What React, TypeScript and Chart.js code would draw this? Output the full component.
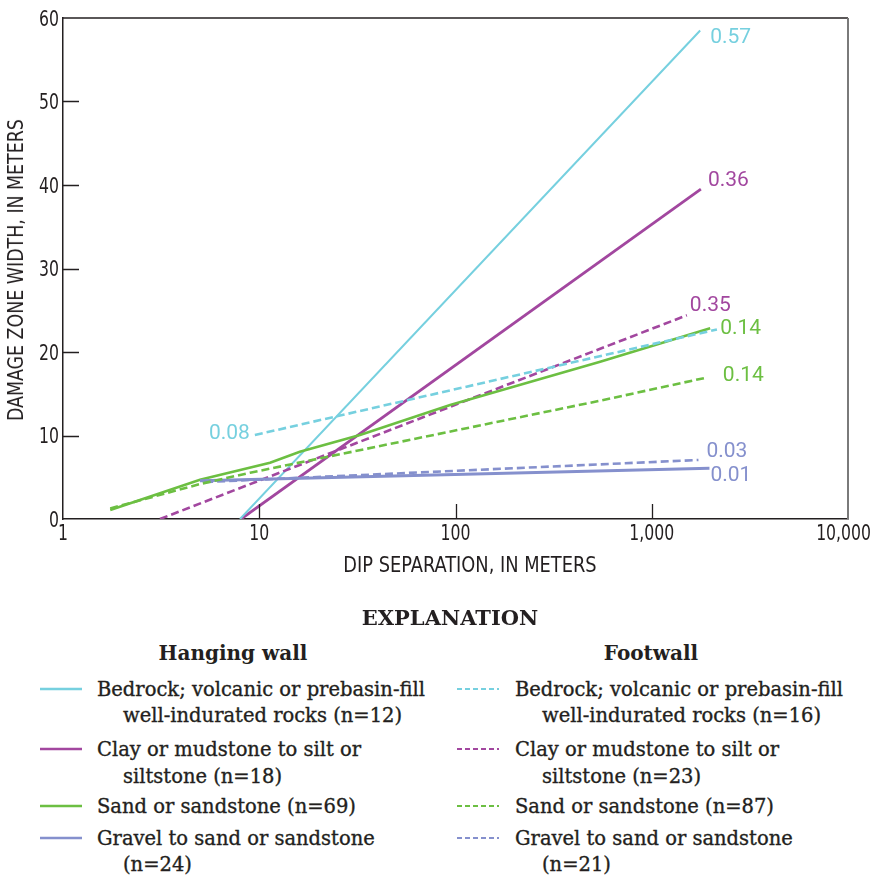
import React, { useEffect, useRef } from "react";
import { Chart, registerables } from "chart.js";

Chart.register(...registerables);

// Trend lines of damage zone width against dip separation (meters)
// Hanging wall
const hwBedrockX = [7.98, 1765];
const hwBedrockY = [0, 58.5];
const hwClayX = [8.08, 1780];
const hwClayY = [0, 39.5];
const hwSandX = [1.74, 4.99, 11.35, 16.1, 32.6, 93.9, 546, 1985];
const hwSandY = [1.08, 4.7, 6.74, 8.06, 10.06, 13.65, 18.84, 22.84];
const hwGravelX = [4.99, 1968];
const hwGravelY = [4.59, 6.07];

// Footwall
const fwBedrockX = [9.5, 2148];
const fwBedrockY = [10.06, 22.7];
const fwClayX = [3.12, 1510];
const fwClayY = [0, 24.4];
const fwSandX = [1.74, 4.99, 8.98, 546, 1931];
const fwSandY = [1.26, 4.19, 5.54, 14.17, 16.97];
const fwGravelX = [5.3, 1730];
const fwGravelY = [4.43, 7.07];

// Coefficient of determination for each fit
const r2Values = {
  hwBedrock: "0.57",
  hwClay: "0.36",
  hwSand: "0.14",
  hwGravel: "0.01",
  fwBedrock: "0.08",
  fwClay: "0.35",
  fwSand: "0.14",
  fwGravel: "0.03",
};

const xTickValues = [1, 10, 100, 1000, 10000];
const xTickLabels = ["1", "10", "100", "1,000", "10,000"];
const yMin = 0;
const yMax = 60;
const yStep = 10;

const CYAN = "#76d0df";
const PURPLE = "#a2479f";
const GREEN = "#6cbf42";
const BLUE = "#8590cd";
const INK = "#231f20";

const COND = "'Liberation Sans Narrow', 'DejaVu Sans Condensed', 'Liberation Sans', sans-serif";
const SERIF = "'DejaVu Serif', 'Liberation Serif', serif";

const pts = (xs: number[], ys: number[]) => xs.map((x, i) => ({ x, y: ys[i] }));

// where each R² label sits relative to its line end
const labelPlacement: Record<string, { end: "first" | "last"; dx: number; dy: number; align: CanvasTextAlign }> = {
  hwBedrock: { end: "last", dx: 10, dy: 7, align: "left" },
  hwClay: { end: "last", dx: 7, dy: -8, align: "left" },
  hwSand: { end: "last", dx: 10, dy: 0, align: "left" },
  hwGravel: { end: "last", dx: 1, dy: 7, align: "left" },
  fwBedrock: { end: "first", dx: -5, dy: -1, align: "right" },
  fwClay: { end: "last", dx: 3, dy: -10, align: "left" },
  fwSand: { end: "last", dx: 15, dy: -2, align: "left" },
  fwGravel: { end: "last", dx: 8, dy: -8, align: "left" },
};

const r2LabelPlugin = {
  id: "r2Labels",
  afterDatasetsDraw(chart: any) {
    const ctx = chart.ctx;
    ctx.save();
    ctx.font = "21px Roboto, 'Liberation Sans', sans-serif";
    ctx.textBaseline = "middle";
    chart.data.datasets.forEach((ds: any, i: number) => {
      const key = ds.key as string;
      const place = labelPlacement[key];
      const meta = chart.getDatasetMeta(i);
      const el = place.end === "last" ? meta.data[meta.data.length - 1] : meta.data[0];
      ctx.fillStyle = ds.borderColor;
      ctx.textAlign = place.align;
      ctx.fillText(r2Values[key as keyof typeof r2Values], el.x + place.dx, el.y + place.dy);
    });
    ctx.restore();
  },
};

// condensed tick labels, placed with the scales' own pixel mapping
const SQUEEZE = 0.83;
const drawCondensed = (ctx: any, text: string, x: number, y: number) => {
  ctx.save();
  ctx.translate(x, y);
  ctx.scale(SQUEEZE, 1);
  ctx.fillText(text, 0, 0);
  ctx.restore();
};

// inward tick marks, tick labels, plus the top and right frame lines
const frameTicksPlugin = {
  id: "frameTicks",
  afterDraw(chart: any) {
    const { ctx, chartArea } = chart;
    const xs = chart.scales.x;
    const ys = chart.scales.y;
    ctx.save();
    ctx.strokeStyle = INK;
    ctx.lineWidth = 1.3;
    ctx.beginPath();
    for (let v = yMin + yStep; v < yMax; v += yStep) {
      const py = Math.round(ys.getPixelForValue(v)) + 0.5;
      ctx.moveTo(chartArea.left, py);
      ctx.lineTo(chartArea.left + 16, py);
    }
    xTickValues.slice(1, -1).forEach((v) => {
      const px = Math.round(xs.getPixelForValue(v)) + 0.5;
      ctx.moveTo(px, chartArea.bottom);
      ctx.lineTo(px, chartArea.bottom - 15);
    });
    ctx.stroke();
    ctx.lineWidth = 1.5;
    ctx.beginPath();
    ctx.moveTo(chartArea.left, chartArea.top);
    ctx.lineTo(chartArea.right, chartArea.top);
    ctx.stroke();
    ctx.strokeStyle = "#7a7a7a";
    ctx.lineWidth = 2;
    ctx.beginPath();
    ctx.moveTo(chartArea.right, chartArea.top);
    ctx.lineTo(chartArea.right, chartArea.bottom);
    ctx.stroke();

    ctx.fillStyle = INK;
    ctx.font = `21px ${COND}`;
    ctx.textBaseline = "alphabetic";
    ctx.textAlign = "right";
    for (let v = yMin; v <= yMax; v += yStep) {
      drawCondensed(ctx, String(v), chartArea.left - 4, ys.getPixelForValue(v) + 7.5);
    }
    ctx.textAlign = "center";
    xTickValues.forEach((v, i) => {
      const half = (ctx.measureText(xTickLabels[i]).width * SQUEEZE) / 2;
      // keep the outermost label inside the canvas
      const cx = Math.min(xs.getPixelForValue(v), chart.width - half);
      drawCondensed(ctx, xTickLabels[i], cx, chartArea.bottom + 21);
    });
    ctx.restore();
  },
};

function DamageChart() {
  const ref = useRef<HTMLCanvasElement | null>(null);
  useEffect(() => {
    if (!ref.current) return;
    const solid = (key: string, color: string, xs: number[], ys: number[], w: number) => ({
      key,
      data: pts(xs, ys),
      borderColor: color,
      borderWidth: w,
      pointRadius: 0,
      tension: 0,
      fill: false,
    });
    const dashed = (key: string, color: string, xs: number[], ys: number[]) => ({
      ...solid(key, color, xs, ys, 2.6),
      borderDash: [8, 4],
    });
    const chart = new Chart(ref.current, {
      type: "line",
      data: {
        datasets: [
          dashed("fwBedrock", CYAN, fwBedrockX, fwBedrockY),
          dashed("fwSand", GREEN, fwSandX, fwSandY),
          dashed("fwGravel", BLUE, fwGravelX, fwGravelY),
          solid("hwGravel", BLUE, hwGravelX, hwGravelY, 3),
          solid("hwSand", GREEN, hwSandX, hwSandY, 2.6),
          dashed("fwClay", PURPLE, fwClayX, fwClayY),
          solid("hwBedrock", CYAN, hwBedrockX, hwBedrockY, 2),
          solid("hwClay", PURPLE, hwClayX, hwClayY, 2.8),
        ] as any,
      },
      options: {
        animation: false,
        responsive: false,
        maintainAspectRatio: false,
        devicePixelRatio: 1,
        layout: { padding: { left: 0, right: 23, top: 18, bottom: 0 } },
        plugins: { legend: { display: false }, tooltip: { enabled: false } },
        events: [],
        scales: {
          x: {
            type: "logarithmic",
            min: 1,
            max: 10000,
            afterBuildTicks: (s: any) => {
              s.ticks = xTickValues.map((v) => ({ value: v }));
            },
            afterFit: (s: any) => {
              s.height = 71;
              s.paddingLeft = 0;
              s.paddingRight = 0;
            },
            grid: { display: false, drawTicks: false },
            border: { display: true, color: INK, width: 1.5 },
            ticks: { display: false, autoSkip: false, maxRotation: 0 },
          },
          y: {
            type: "linear",
            min: yMin,
            max: yMax,
            afterFit: (s: any) => {
              s.width = 63;
              s.paddingTop = 0;
              s.paddingBottom = 0;
            },
            grid: { display: false, drawTicks: false },
            border: { display: true, color: INK, width: 1.5 },
            ticks: { display: false, stepSize: yStep },
          },
        },
      },
      plugins: [r2LabelPlugin, frameTicksPlugin],
    });
    return () => chart.destroy();
  }, []);
  return (
    <canvas
      ref={ref}
      width={871}
      height={590}
      style={{ position: "absolute", left: 0, top: 0, width: 871, height: 590 }}
    />
  );
}

type TextProps = {
  x: number;
  cy: number;
  size: number;
  family: string;
  weight?: number;
  align?: "left" | "center";
  heavy?: boolean;
  children: React.ReactNode;
};

function Label({ x, cy, size, family, weight = 400, align = "left", heavy = false, children }: TextProps) {
  return (
    <div
      style={{
        position: "absolute",
        left: x,
        top: cy,
        transform: align === "center" ? "translate(-50%, -50%)" : "translate(0, -50%)",
        fontFamily: family,
        fontSize: size,
        fontWeight: weight,
        lineHeight: 1,
        color: INK,
        whiteSpace: "nowrap",
        WebkitTextStroke: heavy ? `0.35px ${INK}` : undefined,
      }}
    >
      {children}
    </div>
  );
}

function Sample({ x, cy, color, dashed }: { x: number; cy: number; color: string; dashed: boolean }) {
  return (
    <svg width={44} height={6} style={{ position: "absolute", left: x, top: cy - 3 }}>
      <line
        x1={0}
        y1={3}
        x2={42}
        y2={3}
        stroke={color}
        strokeWidth={dashed ? 1.8 : 2.6}
        strokeDasharray={dashed ? "5 3" : undefined}
      />
    </svg>
  );
}

const legendRows = [
  { color: CYAN, hw: ["Bedrock; volcanic or prebasin-fill", "well-indurated rocks (n=12)"], fw: ["Bedrock; volcanic or prebasin-fill", "well-indurated rocks (n=16)"] },
  { color: PURPLE, hw: ["Clay or mudstone to silt or", "siltstone (n=18)"], fw: ["Clay or mudstone to silt or", "siltstone (n=23)"] },
  { color: GREEN, hw: ["Sand or sandstone (n=69)"], fw: ["Sand or sandstone (n=87)"] },
  { color: BLUE, hw: ["Gravel to sand or sandstone", "(n=24)"], fw: ["Gravel to sand or sandstone", "(n=21)"] },
];
const rowTop = [689.5, 750, 807, 838.5];
const lineGap = 26.5;

export default function App() {
  const itemSize = 19.5;
  return (
    <div
      style={{
        position: "absolute",
        left: 0,
        top: 0,
        width: 871,
        height: 878,
        background: "#fff",
        overflow: "hidden",
      }}
    >
      <DamageChart />
      <div
        style={{
          position: "absolute",
          left: 470,
          top: 565,
          transform: "translate(-50%, -50%) scaleX(0.9)",
          fontFamily: COND,
          fontSize: 22,
          lineHeight: 1,
          color: INK,
          whiteSpace: "nowrap",
        }}
      >
        DIP SEPARATION, IN METERS
      </div>
      <div
        style={{
          position: "absolute",
          left: 16,
          top: 270,
          transform: "translate(-50%, -50%) rotate(-90deg) scaleX(0.88)",
          fontFamily: COND,
          fontSize: 22,
          lineHeight: 1,
          color: INK,
          whiteSpace: "nowrap",
        }}
      >
        DAMAGE ZONE WIDTH, IN METERS
      </div>

      <Label x={450} cy={617} size={21} family={SERIF} weight={700} align="center">
        EXPLANATION
      </Label>
      <Label x={233} cy={653} size={20} family={SERIF} weight={700} align="center">
        Hanging wall
      </Label>
      <Label x={651} cy={653} size={20} family={SERIF} weight={700} align="center">
        Footwall
      </Label>

      {legendRows.map((row, r) => (
        <React.Fragment key={r}>
          <Sample x={40} cy={rowTop[r] - 1} color={row.color} dashed={false} />
          <Sample x={457} cy={rowTop[r] - 1} color={row.color} dashed={true} />
          {row.hw.map((t, j) => (
            <Label key={"h" + j} x={j === 0 ? 97 : 123} cy={rowTop[r] + j * lineGap} size={itemSize} family={SERIF} heavy>
              {t}
            </Label>
          ))}
          {row.fw.map((t, j) => (
            <Label key={"f" + j} x={j === 0 ? 515 : 542} cy={rowTop[r] + j * lineGap} size={itemSize} family={SERIF} heavy>
              {t}
            </Label>
          ))}
        </React.Fragment>
      ))}
    </div>
  );
}
